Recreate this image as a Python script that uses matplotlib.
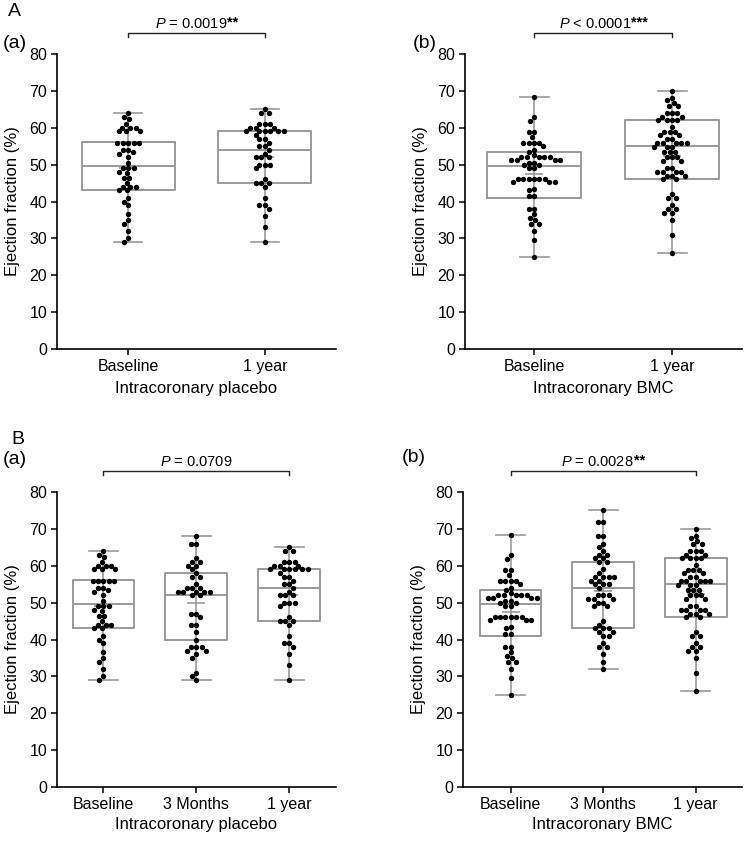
import matplotlib
matplotlib.use("Agg")
import matplotlib.pyplot as plt
import numpy as np

plt.rcParams['font.family'] = ['Liberation Sans', 'DejaVu Sans']
plt.rcParams['mathtext.fontset'] = 'custom'
plt.rcParams['mathtext.rm'] = 'Liberation Sans'
plt.rcParams['mathtext.it'] = 'Liberation Sans:italic'
plt.rcParams['mathtext.bf'] = 'Liberation Sans:bold'

# ---------------- data (ejection fraction, %) ----------------
placebo_baseline = [64, 63, 62.3, 61, 60, 60, 60, 59, 59, 59, 56, 56, 56, 56, 56,
                    54, 54, 53.3, 53, 52, 50.5, 49, 49, 49, 48, 47.6, 46.3, 46.3,
                    45, 44, 44, 44, 43, 43, 41, 40, 39, 36.5, 35, 34, 32, 30, 29]
placebo_3m = [68, 66, 66, 62, 61, 61, 60, 60, 59, 58, 57, 57, 55, 54, 54, 54,
              53, 53, 53, 53, 53, 52, 52, 47, 47, 46, 44, 44, 42, 40, 38, 38, 38,
              37, 37, 36, 35, 31, 30, 29]
placebo_1y = [65, 64, 64, 61, 61, 61, 60, 60, 60, 59, 59, 59, 59, 59, 59, 58,
              57, 57, 56, 55, 55, 54, 53, 52, 52, 52, 50, 50, 50, 49, 46, 45, 45,
              45, 44, 41, 39, 39, 38, 36, 33, 29]
bmc_baseline = [68.4, 62.8, 61.8, 58.8, 58.8, 57.4, 56, 56, 56, 56, 55, 54, 53.3,
                52.5, 52, 52, 52, 52, 52, 51.3, 51.3, 51.3, 51.3, 50.5, 50.5, 50,
                50, 49, 49, 46, 46, 46, 46, 46, 46, 45.2, 45.2, 45.2, 43.5, 43,
                41.5, 41.5, 38, 38, 36.5, 35.5, 35, 34, 34, 32, 29.5, 25]
bmc_3m = [75, 72, 72, 68, 68, 66, 65, 64, 63, 63, 62, 62, 61, 61, 59, 58, 57, 57,
          57, 57, 56, 56, 55, 55, 55, 54, 52, 52, 52, 51, 51, 51, 50, 50, 49, 49,
          45, 44, 43, 43, 43, 42, 42, 41, 41, 39, 38, 38, 36, 34, 32]
bmc_1y = [70, 68, 67.4, 66.6, 65.8, 65.8, 63.9, 63.9, 63.9, 63, 63, 62, 62, 62,
          62, 60.2, 58.9, 58.9, 58.9, 58, 58, 57, 57, 56, 56, 56, 56, 56, 54.8,
          54.8, 54.8, 53.5, 53.5, 53.5, 52, 52, 52, 51, 51, 49, 49, 48, 48, 48,
          48, 47, 47, 47, 46, 46, 42, 41, 41, 39, 38, 38, 37, 37, 35, 31, 26]

# box statistics (quartiles, median, mean)
group_names = ["placebo_baseline", "placebo_3m", "placebo_1y",
               "bmc_baseline", "bmc_3m", "bmc_1y"]
group_values = [placebo_baseline, placebo_3m, placebo_1y,
                bmc_baseline, bmc_3m, bmc_1y]
q1s = [43, 40, 45, 41, 43, 46]
medians = [49.5, 52, 54, 49.5, 54, 55]
q3s = [56.2, 58, 59, 53.5, 61, 62]
means = [49.2, 50, 52, 47.4, 53.2, 52.4]

labels_2 = ["Baseline", "1 year"]
labels_3 = ["Baseline", "3 Months", "1 year"]
p_values = ["0.0019", "< 0.0001", "0.0709", "0.0028"]
p_stars = ["**", "***", "", "**"]

GRAY = "#9a9a9a"
W, H = 744, 841

fig = plt.figure(figsize=(W / 100, H / 100), dpi=100)


def swarm_offsets(vals, ppy, d=5.4):
    """Greedy beeswarm in pixel space; returns x offsets (px)."""
    ys = np.array(vals, float) * ppy
    order = np.argsort(-ys, kind="stable")
    placed = []
    offs = np.zeros(len(ys))
    for i in order:
        y = ys[i]
        cands = [0.0]
        for (px, py) in placed:
            dy = abs(py - y)
            if dy < d:
                dx = np.sqrt(d * d - dy * dy)
                cands += [px + dx, px - dx]
        cands = sorted(cands, key=lambda c: (abs(c), c))
        for c in cands:
            ok = True
            for (px, py) in placed:
                if (px - c) ** 2 + (py - y) ** 2 < d * d - 1e-6:
                    ok = False
                    break
            if ok:
                offs[i] = c
                placed.append((c, y))
                break
    return offs


def panel(rect, idxs, labels, xlim, width, capw, xlabel, ptxt, pstar):
    ax = fig.add_axes(rect)
    ax.set_xlim(*xlim)
    ax.set_ylim(0, 80)
    pos = list(range(len(idxs)))
    stats = []
    for k in idxs:
        v = group_values[k]
        stats.append(dict(q1=q1s[k], med=medians[k], q3=q3s[k], mean=means[k],
                          whislo=min(v), whishi=max(v), fliers=[]))
    ax.bxp(stats, positions=pos, widths=width, capwidths=capw, showmeans=True,
           manage_ticks=False,
           boxprops=dict(color=GRAY, lw=1.4),
           whiskerprops=dict(color=GRAY, lw=1.2),
           capprops=dict(color=GRAY, lw=1.2),
           medianprops=dict(color=GRAY, lw=1.4),
           meanprops=dict(marker="_", markeredgecolor=GRAY, markersize=13,
                          markeredgewidth=1.2))
    for p, k in zip(pos, idxs):
        ax.vlines(p, q1s[k], q3s[k], color=GRAY, lw=1.2, zorder=1)
    # pixel scales
    bw = rect[2] * W
    bh = rect[3] * H
    ppx = bw / (xlim[1] - xlim[0])
    ppy = bh / 80.0
    for p, k in zip(pos, idxs):
        v = group_values[k]
        off = swarm_offsets(v, ppy)
        ax.scatter(p + off / ppx, v, s=15, color="black", zorder=3,
                   linewidths=0)
    for s in ["top", "right"]:
        ax.spines[s].set_visible(False)
    for s in ["left", "bottom"]:
        ax.spines[s].set_linewidth(1.2)
    ax.set_yticks(range(0, 81, 10))
    ax.set_xticks(pos)
    ax.set_xticklabels(labels)
    ax.tick_params(axis="both", length=4, width=1.1, labelsize=11.5, pad=3)
    ax.set_ylabel("Ejection fraction (%)", fontsize=12, va="center")
    ax.yaxis.set_label_coords(-0.16, 0.5)
    ax.set_xlabel(xlabel, fontsize=12)
    # bracket
    x0, x1 = pos[0], pos[-1]
    yb = 80 + 21 / ppy
    yt = yb - 4 / ppy
    ax.plot([x0, x0, x1, x1], [yt, yb, yb, yt], color="#222222", lw=1.0,
            clip_on=False)
    if ptxt.startswith("<"):
        s = r"$\mathit{P}$ " + ptxt
    else:
        s = r"$\mathit{P}$ = " + ptxt
    starw = len(pstar) * 5.5
    t = ax.text((x0 + x1) / 2 - starw / 2 / ppx, 80 + 30.5 / ppy, s,
                ha="center", va="center", fontsize=10.5)
    if pstar:
        ax.annotate(pstar, xy=(1.0, 0.55), xycoords=t, ha="left", va="center",
                    fontsize=10.5, fontweight="bold")
    return ax


axA1 = panel([57 / W, 1 - 349 / H, 279 / W, 295 / H], [0, 2], labels_2,
             (-0.52, 1.52), 0.68, 0.21, "Intracoronary placebo",
             p_values[0], p_stars[0])
axA2 = panel([465 / W, 1 - 349 / H, 277 / W, 295 / H], [3, 5], labels_2,
             (-0.5, 1.507), 0.68, 0.21, "Intracoronary BMC",
             p_values[1], p_stars[1])
axB1 = panel([57 / W, 1 - 787 / H, 279 / W, 295 / H], [0, 1, 2], labels_3,
             (-0.5, 2.505), 0.665, 0.31, "Intracoronary placebo",
             p_values[2], p_stars[2])
axB2 = panel([463 / W, 1 - 787 / H, 279 / W, 295 / H], [3, 4, 5], labels_3,
             (-0.516, 2.5), 0.665, 0.31, "Intracoronary BMC",
             p_values[3], p_stars[3])

for ax in (axA1, axA2):
    ax.xaxis.set_label_coords(0.5, -40 / 295)
    ax.xaxis.label.set_va("center")
for ax in (axB1, axB2):
    ax.xaxis.set_label_coords(0.5, -37 / 295)
    ax.xaxis.label.set_va("center")

def ftxt(x, y, s, size=13):
    fig.text(x / W, 1 - y / H, s, ha="center", va="center", fontsize=size)

ftxt(14, 12, "A", 14)
ftxt(15, 44, "(a)", 14)
ftxt(425, 44, "(b)", 14)
ftxt(18, 440, "B", 14)
ftxt(15, 459, "(a)", 14)
ftxt(414, 457, "(b)", 14)

fig.savefig("out.png", dpi=100)
